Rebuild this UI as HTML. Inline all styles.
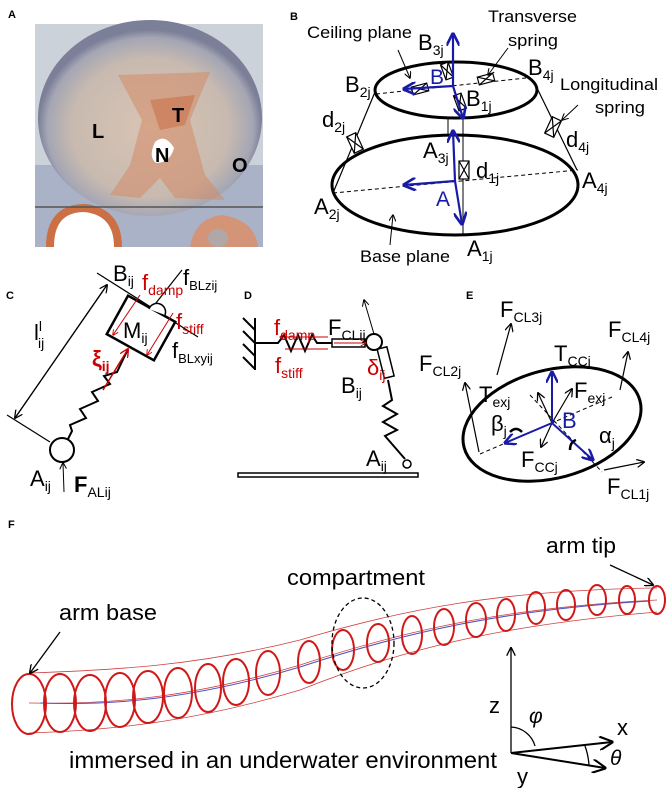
<!DOCTYPE html>
<html><head><meta charset="utf-8"><style>
html,body{margin:0;padding:0;background:#fff}
svg{display:block}
text{font-family:"Liberation Sans",sans-serif}
</style></head><body>
<svg width="670" height="788" viewBox="0 0 670 788" xmlns="http://www.w3.org/2000/svg">
<defs>
<marker id="ak" viewBox="0 0 10 10" refX="9" refY="5" markerWidth="7" markerHeight="7" orient="auto"><path d="M0,0 L10,5 L0,10" fill="none" stroke="#000" stroke-width="1.5"/></marker>
<marker id="ab" viewBox="0 0 10 10" refX="9" refY="5" markerWidth="6" markerHeight="6" orient="auto"><path d="M0,0 L10,5 L0,10" fill="none" stroke="#1a1aa8" stroke-width="2"/></marker>
<marker id="ar" viewBox="0 0 10 10" refX="9" refY="5" markerWidth="6" markerHeight="6" orient="auto"><path d="M0,0 L10,5 L0,10" fill="none" stroke="#c00" stroke-width="1.5"/></marker>
<radialGradient id="tis" cx="0.5" cy="0.55" r="0.5"><stop offset="0" stop-color="#d8c4b4"/><stop offset="0.7" stop-color="#c8bab0"/><stop offset="0.92" stop-color="#a4a6b4"/><stop offset="1" stop-color="#7c7f98"/></radialGradient>
</defs>

<!-- Panel A -->
<text x="8" y="18" font-size="11" font-weight="bold">A</text>
<rect x="35" y="24" width="228" height="223" fill="#ccd2da"/>
<rect x="35" y="165" width="228" height="82" fill="#a9b2c6"/>
<ellipse cx="150" cy="118" rx="112" ry="98" fill="url(#tis)"/>
<path d="M118,75 L210,72 L190,120 L205,175 L225,200 L175,198 L160,178 L140,198 L110,195 L130,165 L142,120 Z" fill="#d48a66" opacity="0.55"/>
<path d="M150,100 L195,95 L185,125 L160,130 Z" fill="#c8683e" opacity="0.5"/>
<path d="M155,142 Q165,133 174,148 Q170,163 156,163 Q148,157 155,142 Z" fill="#fff"/>
<path d="M50,247 Q50,208 85,208 Q118,212 118,247" fill="#fff" stroke="#cc6f45" stroke-width="8"/>
<path d="M190,247 Q195,218 222,215 Q255,220 258,247" fill="#d49478"/>
<ellipse cx="218" cy="238" rx="10" ry="9" fill="#b0a8a8"/>
<line x1="35" y1="207" x2="263" y2="207" stroke="#555" stroke-width="1.5"/>
<text x="92" y="138" font-size="20" font-weight="bold">L</text>
<text x="172" y="122" font-size="20" font-weight="bold">T</text>
<text x="155" y="162" font-size="20" font-weight="bold">N</text>
<text x="232" y="172" font-size="20" font-weight="bold">O</text>

<!-- Panel B -->
<text x="290" y="20" font-size="11" font-weight="bold">B</text>
<ellipse cx="456" cy="90" rx="81" ry="28" fill="none" stroke="#000" stroke-width="3"/>
<ellipse cx="455" cy="185" rx="123" ry="50" fill="none" stroke="#000" stroke-width="3"/>
<line x1="375" y1="92" x2="333" y2="193" stroke="#000" stroke-width="1.2"/>
<line x1="537" y1="88" x2="577" y2="170" stroke="#000" stroke-width="1.2"/>
<line x1="376" y1="94" x2="526" y2="78" stroke="#000" stroke-dasharray="4,3"/>
<line x1="333" y1="193" x2="578" y2="170" stroke="#000" stroke-dasharray="4,3"/>
<line x1="463" y1="118" x2="463" y2="235" stroke="#000"/>
<line x1="448" y1="118" x2="448" y2="135" stroke="#000"/>
<g fill="#fff" stroke="#000" stroke-width="1.2">
<g transform="translate(355,143) rotate(65)"><rect x="-9" y="-5" width="18" height="10"/><path d="M-9,-5 L9,5 M-9,5 L9,-5"/></g>
<g transform="translate(553,127) rotate(-65)"><rect x="-9" y="-5" width="18" height="10"/><path d="M-9,-5 L9,5 M-9,5 L9,-5"/></g>
<g transform="translate(464,170) rotate(90)"><rect x="-9" y="-5" width="18" height="10"/><path d="M-9,-5 L9,5 M-9,5 L9,-5"/></g>
<g transform="translate(486,79) rotate(-15)"><rect x="-8" y="-4" width="16" height="8"/><path d="M-8,-4 L8,4 M-8,4 L8,-4"/></g>
<g transform="translate(420,89) rotate(-15)"><rect x="-8" y="-4" width="16" height="8"/><path d="M-8,-4 L8,4 M-8,4 L8,-4"/></g>
<g transform="translate(447,71) rotate(70)"><rect x="-8" y="-4" width="16" height="8"/><path d="M-8,-4 L8,4 M-8,4 L8,-4"/></g>
<g transform="translate(460,102) rotate(70)"><rect x="-8" y="-4" width="16" height="8"/><path d="M-8,-4 L8,4 M-8,4 L8,-4"/></g>
</g>
<g stroke="#1a1aa8" stroke-width="2.2" fill="none">
<line x1="453" y1="86" x2="453" y2="34" marker-end="url(#ab)"/>
<line x1="453" y1="86" x2="404" y2="89" marker-end="url(#ab)"/>
<line x1="453" y1="86" x2="463" y2="118" marker-end="url(#ab)"/>
<line x1="455" y1="181" x2="453" y2="131" marker-end="url(#ab)"/>
<line x1="455" y1="181" x2="404" y2="185" marker-end="url(#ab)"/>
<line x1="455" y1="181" x2="462" y2="224" marker-end="url(#ab)"/>
</g>
<text x="430" y="84" font-size="21" fill="#1a1aa8">B</text>
<text x="436" y="206" font-size="21" fill="#1a1aa8">A</text>
<g font-size="22">
<text x="418" y="50">B<tspan font-size="14" dy="5">3j</tspan></text>
<text x="345" y="92">B<tspan font-size="14" dy="5">2j</tspan></text>
<text x="466" y="106">B<tspan font-size="14" dy="5">1j</tspan></text>
<text x="528" y="75">B<tspan font-size="14" dy="5">4j</tspan></text>
<text x="423" y="158">A<tspan font-size="14" dy="5">3j</tspan></text>
<text x="476" y="178">d<tspan font-size="14" dy="5">1j</tspan></text>
<text x="582" y="188">A<tspan font-size="14" dy="5">4j</tspan></text>
<text x="314" y="214">A<tspan font-size="14" dy="5">2j</tspan></text>
<text x="467" y="256">A<tspan font-size="14" dy="5">1j</tspan></text>
<text x="322" y="127">d<tspan font-size="14" dy="5">2j</tspan></text>
<text x="566" y="147">d<tspan font-size="14" dy="5">4j</tspan></text>
</g>
<g font-size="17">
<text x="307" y="38" textLength="105" lengthAdjust="spacingAndGlyphs">Ceiling plane</text>
<text x="488" y="22" textLength="89" lengthAdjust="spacingAndGlyphs">Transverse</text>
<text x="508" y="46" textLength="50" lengthAdjust="spacingAndGlyphs">spring</text>
<text x="560" y="90" textLength="98" lengthAdjust="spacingAndGlyphs">Longitudinal</text>
<text x="595" y="113" textLength="50" lengthAdjust="spacingAndGlyphs">spring</text>
<text x="360" y="262" textLength="90" lengthAdjust="spacingAndGlyphs">Base plane</text>
</g>
<g stroke="#000" fill="none">
<line x1="398" y1="50" x2="410" y2="78" marker-end="url(#ak)"/>
<line x1="508" y1="48" x2="488" y2="75" marker-end="url(#ak)"/>
<line x1="578" y1="105" x2="562" y2="120" marker-end="url(#ak)"/>
<line x1="390" y1="245" x2="393" y2="215" marker-end="url(#ak)"/>
</g>

<!-- Panel C -->
<text x="6" y="299" font-size="11" font-weight="bold">C</text>
<g stroke="#000" fill="none" stroke-width="1.2">
<line x1="107" y1="285" x2="15" y2="418" marker-end="url(#ak)"/>
<line x1="15" y1="418" x2="107" y2="285" marker-end="url(#ak)"/>
<line x1="97" y1="273" x2="198" y2="337"/>
<line x1="7" y1="415" x2="50" y2="442"/>
<line x1="152" y1="308" x2="182" y2="270"/>
</g>
<circle cx="62" cy="450" r="12" fill="none" stroke="#000" stroke-width="2"/>
<path d="M68,439 L72,431 L70,425 L86,418 L80,409 L98,401 L92,392 L110,384 L104,376 L117,372 L128,349" fill="none" stroke="#000" stroke-width="2"/>
<g transform="translate(141,328) rotate(29)"><rect x="-27" y="-22" width="54" height="44" fill="#fff" stroke="#000" stroke-width="2.5"/></g>
<path d="M149,309 a8,8 0 0 1 16,6" fill="#fff" stroke="#000" stroke-width="1.5"/>
<line x1="103" y1="390" x2="128" y2="349" stroke="#c00" stroke-width="1.5" marker-end="url(#ar)"/>
<line x1="140" y1="295" x2="113" y2="335" stroke="#c00" marker-end="url(#ar)"/>
<line x1="173" y1="313" x2="147" y2="355" stroke="#c00" marker-end="url(#ar)"/>
<line x1="64" y1="492" x2="63" y2="463" stroke="#000" marker-end="url(#ak)"/>
<g font-size="22">
<text x="34" y="340">l<tspan font-size="14" dy="-9">l</tspan><tspan font-size="14" dx="-4" dy="17">ij</tspan></text>
<text x="113" y="281">B<tspan font-size="14" dy="5">ij</tspan></text>
<text x="142" y="290" fill="#c00">f<tspan font-size="14" dy="5">damp</tspan></text>
<text x="183" y="285">f<tspan font-size="13" dy="5">BLzij</tspan></text>
<text x="176" y="329" fill="#c00">f<tspan font-size="14" dy="5">stiff</tspan></text>
<text x="172" y="358">f<tspan font-size="13" dy="5">BLxyij</tspan></text>
<text x="123" y="338">M<tspan font-size="14" dy="5">ij</tspan></text>
<text x="92" y="366" fill="#c00" font-weight="bold">ξ<tspan font-size="14" dy="5">ij</tspan></text>
<text x="30" y="486">A<tspan font-size="14" dy="5">ij</tspan></text>
<text x="74" y="492" font-weight="bold">F<tspan font-size="14" dy="5" font-weight="normal">ALij</tspan></text>
</g>

<!-- Panel D -->
<text x="244" y="299" font-size="11" font-weight="bold">D</text>
<g stroke="#000" stroke-width="2" fill="none">
<line x1="255" y1="318" x2="255" y2="370"/>
<path d="M255,330 L243,318 M255,343 L243,331 M255,356 L243,344 M255,369 L243,357"/>
<path d="M255,343 L278,343 L284,335 L291,351 L298,335 L305,351 L312,335 L317,343 L332,343"/>
<rect x="332" y="339" width="33" height="8" stroke-width="1.5"/>
<circle cx="374" cy="342" r="8" fill="#fff"/>
<rect x="377" y="348" width="10" height="30" transform="rotate(-14 382 348)" stroke-width="1.5"/>
<path d="M388,380 L392,400 L383,406 L397,414 L383,422 L397,430 L385,436 L405,459"/>
<circle cx="407" cy="464" r="4" stroke-width="1.5"/>
<rect x="238" y="473" width="180" height="4" stroke-width="1.5"/>
</g>
<line x1="374" y1="334" x2="364" y2="300" stroke="#000" marker-end="url(#ak)"/>
<line x1="328" y1="337" x2="280" y2="337" stroke="#c00" marker-end="url(#ar)"/>
<line x1="285" y1="349" x2="328" y2="349" stroke="#c00"/>
<line x1="334" y1="343" x2="366" y2="343" stroke="#c00" marker-end="url(#ar)"/>
<g font-size="22">
<text x="274" y="335" fill="#c00">f<tspan font-size="14" dy="5">damp</tspan></text>
<text x="328" y="335">F<tspan font-size="14" dy="5">CLij</tspan></text>
<text x="275" y="373" fill="#c00">f<tspan font-size="14" dy="5">stiff</tspan></text>
<text x="367" y="375" fill="#c00">δ<tspan font-size="14" dy="5">ij</tspan></text>
<text x="341" y="393">B<tspan font-size="14" dy="5">ij</tspan></text>
<text x="366" y="466">A<tspan font-size="14" dy="5">ij</tspan></text>
</g>

<!-- Panel E -->
<text x="466" y="299" font-size="11" font-weight="bold">E</text>
<ellipse cx="552" cy="424" rx="91" ry="54" transform="rotate(-15 552 424)" fill="none" stroke="#000" stroke-width="3"/>
<line x1="480" y1="454" x2="612" y2="397" stroke="#000" stroke-dasharray="4,3"/>
<line x1="530" y1="395" x2="602" y2="472" stroke="#000" stroke-dasharray="4,3"/>
<g stroke="#000" fill="none" stroke-width="1.2">
<line x1="552" y1="423" x2="538" y2="393" marker-end="url(#ak)"/>
<line x1="552" y1="423" x2="572" y2="389" marker-end="url(#ak)"/>
<line x1="552" y1="423" x2="541" y2="447" marker-end="url(#ak)"/>
<line x1="497" y1="375" x2="511" y2="324" marker-end="url(#ak)"/>
<line x1="620" y1="390" x2="628" y2="352" marker-end="url(#ak)"/>
<line x1="479" y1="452" x2="465" y2="383" marker-end="url(#ak)"/>
<line x1="604" y1="470" x2="644" y2="462" marker-end="url(#ak)"/>
</g>
<g stroke="#1a1aa8" stroke-width="2" fill="none">
<line x1="552" y1="423" x2="552" y2="372" marker-end="url(#ab)"/>
<line x1="552" y1="423" x2="505" y2="443" marker-end="url(#ab)"/>
<line x1="552" y1="423" x2="593" y2="460" marker-end="url(#ab)"/>
</g>
<path d="M510,432 q6,-6 12,0 M576,440 q-6,2 -6,10" stroke="#000" stroke-width="2.5" fill="none"/>
<g font-size="22">
<text x="500" y="317">F<tspan font-size="14" dy="5">CL3j</tspan></text>
<text x="608" y="337">F<tspan font-size="14" dy="5">CL4j</tspan></text>
<text x="554" y="361">T<tspan font-size="14" dy="5">CCj</tspan></text>
<text x="419" y="371">F<tspan font-size="14" dy="5">CL2j</tspan></text>
<text x="479" y="402">T<tspan font-size="14" dy="5">exj</tspan></text>
<text x="574" y="398">F<tspan font-size="14" dy="5">exj</tspan></text>
<text x="562" y="428" fill="#1a1aa8">B</text>
<text x="491" y="431">β<tspan font-size="14" dy="5">j</tspan></text>
<text x="599" y="443">α<tspan font-size="14" dy="5">j</tspan></text>
<text x="521" y="467">F<tspan font-size="14" dy="5">CCj</tspan></text>
<text x="607" y="494">F<tspan font-size="14" dy="5">CL1j</tspan></text>
</g>

<!-- Panel F -->
<text x="8" y="528" font-size="11" font-weight="bold">F</text>
<g fill="none" stroke="#d04040" stroke-width="0.8">
<path d="M29,673 C120,670 200,665 300,640 C400,610 500,590 657,588"/>
<path d="M29,733 C120,730 200,720 300,690 C400,650 500,625 657,612"/>
<path d="M29,703 C120,705 200,695 300,665 C400,632 500,608 657,600"/>
</g>
<path d="M40,703 C120,706 200,697 300,667 C400,634 500,610 650,601" fill="none" stroke="#5050c0" stroke-width="1"/>
<g fill="none" stroke="#d01818" stroke-width="2">
<ellipse cx="29" cy="704" rx="17" ry="30"/>
<ellipse cx="60" cy="703" rx="16" ry="29"/>
<ellipse cx="90" cy="703" rx="16" ry="28"/>
<ellipse cx="120" cy="700" rx="15" ry="27"/>
<ellipse cx="148" cy="697" rx="15" ry="26"/>
<ellipse cx="178" cy="693" rx="14" ry="25"/>
<ellipse cx="208" cy="688" rx="13" ry="24"/>
<ellipse cx="236" cy="682" rx="13" ry="23"/>
<ellipse cx="268" cy="673" rx="12" ry="22"/>
<ellipse cx="309" cy="662" rx="11" ry="21"/>
<ellipse cx="343" cy="650" rx="11" ry="20"/>
<ellipse cx="378" cy="643" rx="11" ry="19"/>
<ellipse cx="412" cy="635" rx="10" ry="19"/>
<ellipse cx="444" cy="627" rx="10" ry="18"/>
<ellipse cx="476" cy="620" rx="10" ry="17"/>
<ellipse cx="506" cy="615" rx="9" ry="16"/>
<ellipse cx="536" cy="608" rx="9" ry="16"/>
<ellipse cx="566" cy="605" rx="9" ry="15"/>
<ellipse cx="597" cy="600" rx="9" ry="15"/>
<ellipse cx="627" cy="600" rx="8" ry="14"/>
<ellipse cx="657" cy="600" rx="8" ry="14"/>
</g>
<ellipse cx="363" cy="643" rx="31" ry="45" fill="none" stroke="#000" stroke-width="1.3" stroke-dasharray="4,3"/>
<text x="287" y="585" font-size="22" textLength="138" lengthAdjust="spacingAndGlyphs">compartment</text>
<text x="59" y="620" font-size="22" textLength="98" lengthAdjust="spacingAndGlyphs">arm base</text>
<text x="546" y="553" font-size="22" textLength="70" lengthAdjust="spacingAndGlyphs">arm tip</text>
<text x="69" y="768" font-size="23" textLength="428" lengthAdjust="spacingAndGlyphs">immersed in an underwater environment</text>
<g stroke="#000" fill="none" stroke-width="1.3">
<line x1="60" y1="632" x2="30" y2="673" marker-end="url(#ak)"/>
<line x1="610" y1="565" x2="653" y2="585" marker-end="url(#ak)"/>
<line x1="511" y1="753" x2="511" y2="648" marker-end="url(#ak)"/>
<line x1="511" y1="753" x2="612" y2="742" stroke-width="2" marker-end="url(#ak)"/>
<line x1="511" y1="753" x2="605" y2="768" stroke-width="2" marker-end="url(#ak)"/>
<path d="M511,727 A26,26 0 0 1 535,746"/>
<path d="M585,746 A70,70 0 0 1 589,765"/>
</g>
<text x="489" y="713" font-size="22">z</text>
<text x="529" y="723" font-size="21" font-style="italic">φ</text>
<text x="617" y="735" font-size="22">x</text>
<text x="610" y="765" font-size="21" font-style="italic">θ</text>
<text x="517" y="784" font-size="22">y</text>
</svg>
</body></html>
